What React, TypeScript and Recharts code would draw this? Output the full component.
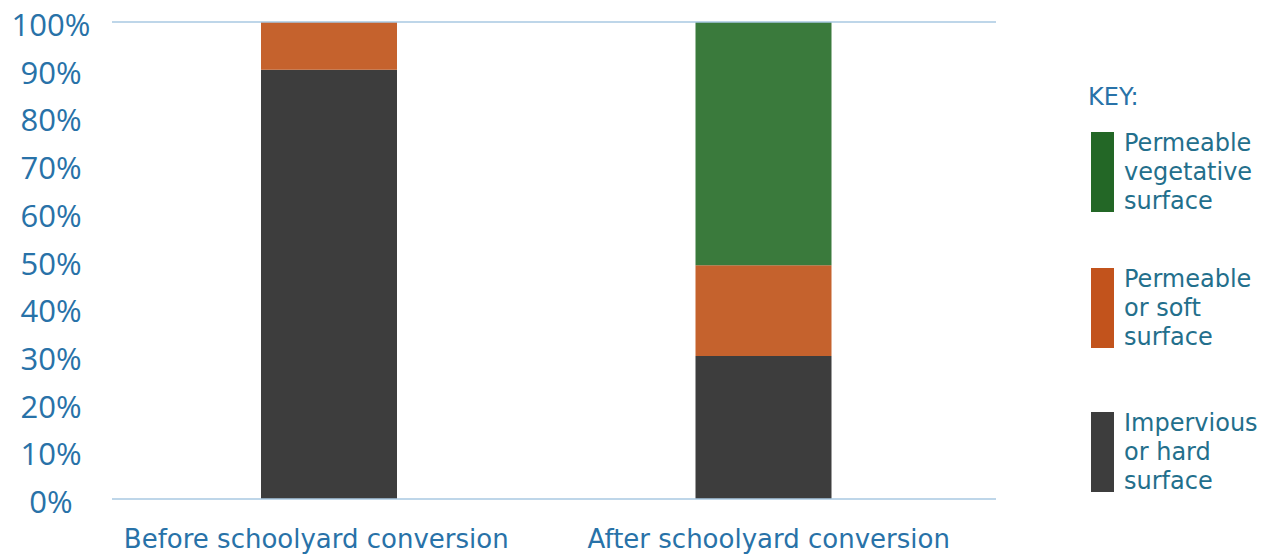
import { BarChart, Bar, XAxis, YAxis, ReferenceLine } from "recharts";

const categories = ["Before schoolyard conversion", "After schoolyard conversion"];
const hardSurface = [90, 30];
const softSurface = [10, 19];
const vegetativeSurface = [0, 51];
const yTicks = [0, 10, 20, 30, 40, 50, 60, 70, 80, 90, 100];

const legendLabels = [
  ["Permeable", "vegetative", "surface"],
  ["Permeable", "or soft", "surface"],
  ["Impervious", "or hard", "surface"],
];
const legendColors = ["#236726", "#c2531c", "#3d3d3d"];
const legendTops = [129, 265, 409];

const data = categories.map((name, i) => ({
  name,
  hard: hardSurface[i],
  soft: softSurface[i],
  veg: vegetativeSurface[i],
}));

const BLUE = "#2872a8";
const FONT = "'Open Sans', Lato, sans-serif";
const WIDE = "'DejaVu Sans', 'Open Sans', sans-serif";
// small nudges so the category labels sit where the original put them
const labelShift = [-13, 5];

function YTick(props: any) {
  const { y, payload } = props;
  return (
    <text x={51} y={y + 2} textAnchor="middle" dominantBaseline="central" fill={BLUE} fontSize={31} fontFamily={FONT}>
      {payload.value}%
    </text>
  );
}

function XTick(props: any) {
  const { x, payload, index } = props;
  return (
    <text x={x + (labelShift[index] ?? 0)} y={548} textAnchor="middle" fill={BLUE} fontSize={26} fontFamily={WIDE}>
      {payload.value}
    </text>
  );
}

export default function App() {
  return (
    <div style={{ position: "absolute", left: 0, top: 0, width: 1285, height: 554, background: "#fff" }}>
      <BarChart width={1285} height={554} data={data} margin={{ top: 22, right: 289, bottom: 54, left: 12 }} barSize={136}>
        <XAxis
          dataKey="name"
          height={1}
          tick={<XTick />}
          tickLine={false}
          axisLine={{ stroke: "#a9c9e2", strokeWidth: 1.5 }}
          padding={{ left: 0, right: 15 }}
          interval={0}
        />
        <YAxis width={100} domain={[0, 100]} ticks={yTicks} tick={<YTick />} axisLine={false} tickLine={false} />
        <ReferenceLine y={100} stroke="#a9c9e2" strokeWidth={1.5} />
        <Bar dataKey="hard" stackId="a" fill="#3d3d3d" isAnimationActive={false} />
        <Bar dataKey="soft" stackId="a" fill="#c5622d" isAnimationActive={false} />
        <Bar dataKey="veg" stackId="a" fill="#3a7a3c" isAnimationActive={false} />
      </BarChart>
      <div style={{ position: "absolute", left: 1088, top: 82, fontFamily: WIDE, fontSize: 24, color: BLUE, lineHeight: "30px" }}>
        KEY:
      </div>
      {legendLabels.map((lines, i) => (
        <div key={i} style={{ position: "absolute", left: 1091, top: legendTops[i], display: "flex" }}>
          <div style={{ width: 23, height: 80, marginTop: 3, background: legendColors[i] }} />
          <div style={{ marginLeft: 10, fontFamily: WIDE, fontSize: 24, lineHeight: "29px", color: "#236f8c" }}>
            {lines.map((l, j) => (
              <div key={j}>{l}</div>
            ))}
          </div>
        </div>
      ))}
    </div>
  );
}
